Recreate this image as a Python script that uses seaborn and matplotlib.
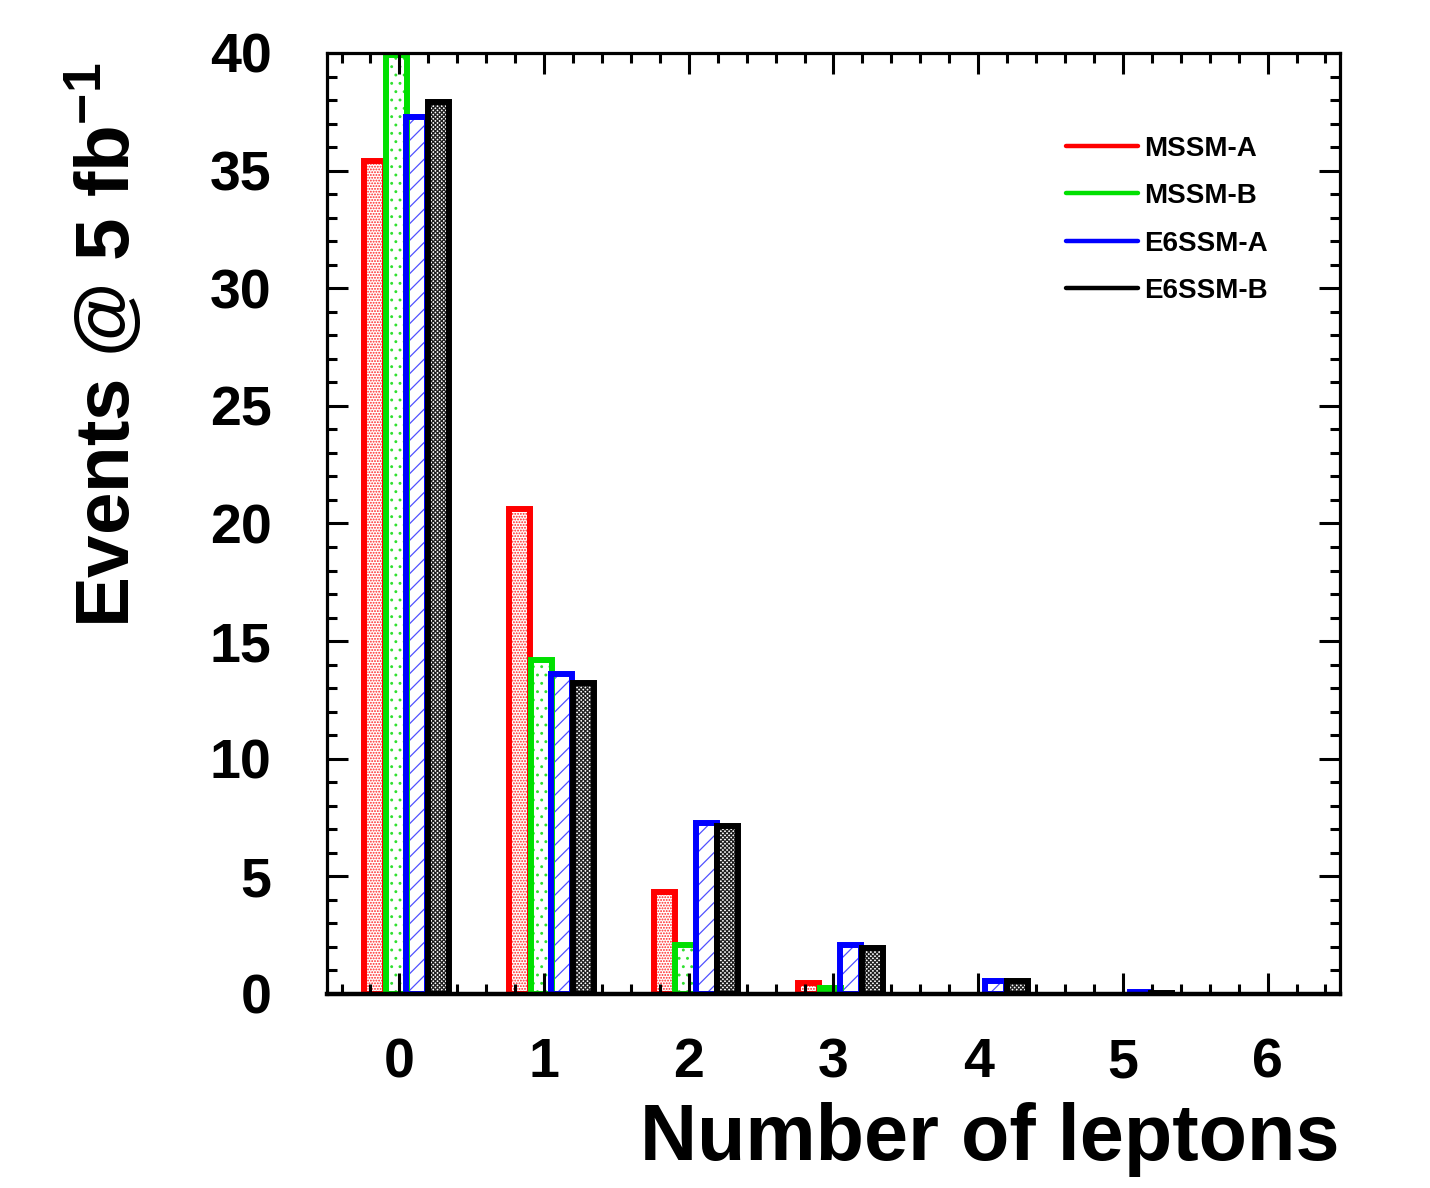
import numpy as np
import pandas as pd
import matplotlib
matplotlib.use("Agg")
import matplotlib.pyplot as plt
from matplotlib.lines import Line2D
from matplotlib.ticker import MultipleLocator
import seaborn as sns

# ---- data ----
n_leptons = [0, 1, 2, 3, 4, 5, 6]
tick_labels = ["0", "1", "2", "3", "4", "5", "6"]
mssm_a = [35.4, 20.6, 4.35, 0.45, 0.0, 0.0, 0.0]
mssm_b = [39.9, 14.2, 2.1, 0.25, 0.0, 0.0, 0.0]
e6ssm_a = [37.3, 13.6, 7.25, 2.1, 0.55, 0.08, 0.0]
e6ssm_b = [37.9, 13.2, 7.15, 1.95, 0.55, 0.03, 0.0]
series_names = ["MSSM-A", "MSSM-B", "E6SSM-A", "E6SSM-B"]

sns.set_theme(style="white")
plt.rcParams["font.family"] = ["Liberation Sans", "DejaVu Sans"]
plt.rcParams["font.weight"] = "bold"
plt.rcParams["text.color"] = "black"
plt.rcParams["axes.labelcolor"] = "black"
plt.rcParams["xtick.color"] = "black"
plt.rcParams["ytick.color"] = "black"
plt.rcParams["mathtext.fontset"] = "custom"
plt.rcParams["mathtext.rm"] = "Liberation Sans:bold"
plt.rcParams["mathtext.bf"] = "Liberation Sans:bold"
plt.rcParams["mathtext.it"] = "Liberation Sans:bold"
plt.rcParams["hatch.linewidth"] = 0.9

fig = plt.figure(figsize=(14.30, 11.88), dpi=100)
ax = fig.add_axes([0.2287, 0.1633, 0.937 - 0.2287, 0.9554 - 0.1633])

series = [mssm_a, mssm_b, e6ssm_a, e6ssm_b]
colors = ["#ff0000", "#00e000", "#0000ff", "#000000"]
hatch_colors = ["#ff2020", "#30e030", "#5050ff", "#202020"]
hatches = ["......", "..", "//", "xxxxxxxx"]
offsets = [-0.17, -0.02, 0.12, 0.27]
bw = 0.145

x = np.array(n_leptons, dtype=float)
for vals, col, hcol, hat, off, name in zip(series, colors, hatch_colors, hatches, offsets, series_names):
    df = pd.DataFrame({"x": x + off, "y": vals})
    df = df[df["y"] > 0]  # empty bins are not drawn
    # hatch fill layer
    sns.barplot(data=df, x="x", y="y", native_scale=True, width=bw, errorbar=None,
                color="white", saturation=1, edgecolor=hcol, linewidth=0,
                hatch=hat, ax=ax, zorder=1)
    # outline layer
    sns.barplot(data=df, x="x", y="y", native_scale=True, width=bw, errorbar=None,
                fill=False, edgecolor=col, linewidth=4.3, ax=ax, zorder=1.2)

ax.set_xlim(-0.5, 6.5)
ax.set_ylim(0, 40)
ax.set_axisbelow(False)

ax.xaxis.set_major_locator(MultipleLocator(1))
ax.xaxis.set_minor_locator(MultipleLocator(0.2))
ax.yaxis.set_major_locator(MultipleLocator(5))
ax.yaxis.set_minor_locator(MultipleLocator(1))
ax.set_xticks(n_leptons)
ax.set_xticklabels(tick_labels)

ax.tick_params(which="both", direction="in", top=True, right=True, bottom=True, left=True,
               width=2.2, color="black")
ax.tick_params(which="major", length=15)
ax.tick_params(which="minor", length=7)
ax.tick_params(axis="y", which="major", labelsize=40, pad=40, labelcolor="black")
ax.tick_params(axis="x", which="major", labelsize=40, pad=31, labelcolor="black")
for lab in ax.get_xticklabels() + ax.get_yticklabels():
    lab.set_fontweight("bold")

for sp in ax.spines.values():
    sp.set_visible(True)
    sp.set_color("black")
    sp.set_linewidth(2.3)
ax.spines["bottom"].set_linewidth(3.2)

ax.set_ylabel("Events @ 5 fb$^{\\mathbf{-1}}$", fontsize=55, fontweight="bold",
              ha="right", va="center", color="black")
ax.yaxis.set_label_coords(-0.219, 0.99)
ax.set_xlabel("Number of leptons", fontsize=57, fontweight="bold", ha="right", va="center",
              color="black")
ax.xaxis.set_label_coords(1.0, -0.155)

handles = [Line2D([0], [0], color=c, lw=3.2) for c in colors]
leg = ax.legend(handles, series_names, loc="upper left", bbox_to_anchor=(0.7295, 0.912),
                frameon=False, borderpad=0, borderaxespad=0, handlelength=2.6,
                handletextpad=0.2, labelspacing=0.77,
                prop={"family": "Liberation Sans", "weight": "bold", "size": 20})
for t in leg.get_texts():
    t.set_color("black")

fig.savefig("out.png", dpi=100)
